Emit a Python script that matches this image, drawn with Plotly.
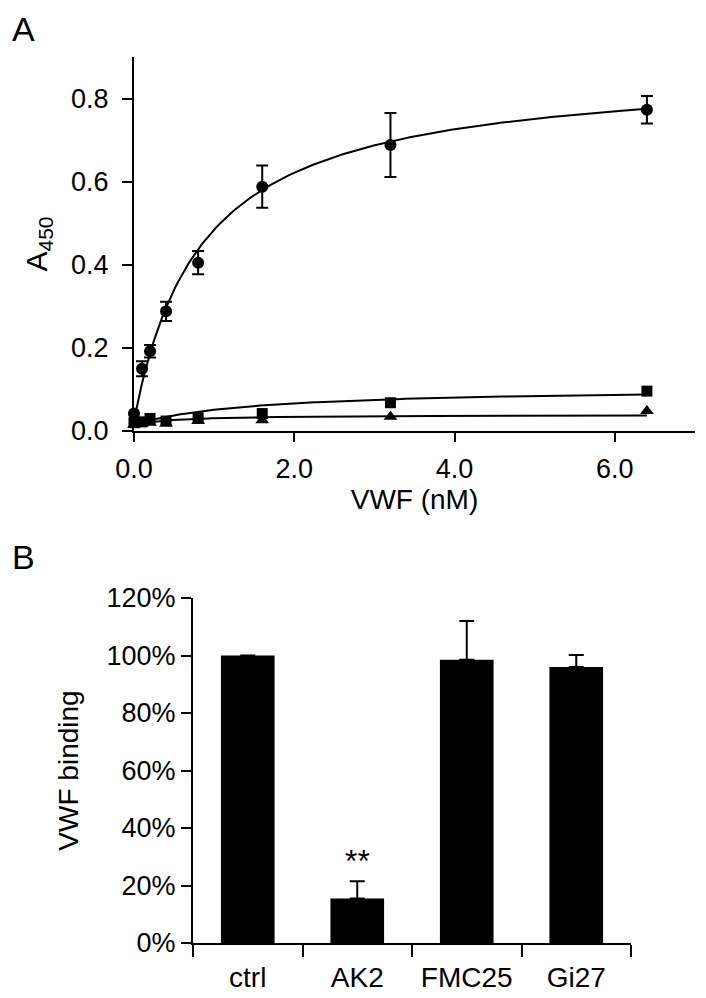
import numpy as np
import plotly.graph_objects as go

# ---------------- Panel A data ----------------
vwf_nM = [0.0, 0.1, 0.2, 0.4, 0.8, 1.6, 3.2, 6.4]
circle_vals = [0.042, 0.150, 0.192, 0.288, 0.405, 0.588, 0.688, 0.773]
circle_err = [0.0, 0.018, 0.015, 0.023, 0.028, 0.051, 0.077, 0.033]
square_vals = [0.020, 0.022, 0.030, 0.024, 0.032, 0.042, 0.068, 0.096]
triangle_vals = [0.015, 0.018, 0.020, 0.018, 0.024, 0.026, 0.034, 0.048]

# one-site binding fit parameters (Bmax, Kd, baseline)
fit_circle = (0.85, 0.85, 0.025)
fit_square = (0.09, 1.5, 0.015)
fit_triangle = (0.025, 0.5, 0.014)

# ---------------- Panel B data ----------------
antibodies = ["ctrl", "AK2", "FMC25", "Gi27"]
binding_pct = [100.0, 15.5, 98.5, 96.0]
binding_err = [None, 6.0, 13.5, 4.2]
pct_ticks = [0, 20, 40, 60, 80, 100, 120]
pct_labels = ["0%", "20%", "40%", "60%", "80%", "100%", "120%"]

FONT = "Liberation Sans, Arial, Helvetica, sans-serif"

# the page body adds an 8px margin; size the figure so it fits the window
OFF = 8
W, H = 706 - OFF, 998 - OFF


def fx(p):
    return (p - OFF) / W


def fy(p):
    return 1 - (p - OFF) / H


fig = go.Figure()


def fit_curve(params):
    bmax, kd, c = params
    xs = np.linspace(0, max(vwf_nM), 200)
    return xs, bmax * xs / (kd + xs) + c


for params in (fit_circle, fit_square, fit_triangle):
    xs, ys = fit_curve(params)
    fig.add_trace(go.Scatter(x=xs, y=ys, mode="lines", line=dict(color="black", width=2),
                             xaxis="x", yaxis="y", showlegend=False, hoverinfo="skip",
                             cliponaxis=False))

fig.add_trace(go.Scatter(x=vwf_nM, y=triangle_vals, mode="markers",
                         marker=dict(symbol="triangle-up", size=12, color="black"),
                         xaxis="x", yaxis="y", showlegend=False, cliponaxis=False))
fig.add_trace(go.Scatter(x=vwf_nM, y=square_vals, mode="markers",
                         marker=dict(symbol="square", size=11, color="black"),
                         xaxis="x", yaxis="y", showlegend=False, cliponaxis=False))
fig.add_trace(go.Scatter(x=vwf_nM, y=circle_vals, mode="markers",
                         marker=dict(symbol="circle", size=12, color="black"),
                         error_y=dict(type="data", array=circle_err, visible=True,
                                      color="black", thickness=2, width=6),
                         xaxis="x", yaxis="y", showlegend=False, cliponaxis=False))

fig.add_trace(go.Bar(x=antibodies, y=binding_pct, marker=dict(color="black", line=dict(width=0)),
                     width=0.49,
                     error_y=dict(type="data", symmetric=False, array=binding_err,
                                  arrayminus=[0] * len(binding_err), visible=True,
                                  color="black", thickness=2, width=7.5),
                     xaxis="x2", yaxis="y2", showlegend=False))

axis_common = dict(showline=True, linecolor="black", linewidth=2, ticks="outside",
                   tickcolor="black", tickwidth=2, showgrid=False, zeroline=False,
                   automargin=False)

fig.update_layout(
    width=W, height=H,
    margin=dict(l=0, r=0, t=0, b=0, autoexpand=False),
    paper_bgcolor="white", plot_bgcolor="white",
    font=dict(family=FONT, color="black"),
    xaxis=dict(domain=[fx(134), fx(695)], range=[0, 7.0], tickvals=[0, 2, 4, 6],
               tickformat=".1f", ticklen=9, anchor="y", ticklabelstandoff=4,
               tickfont=dict(family=FONT, size=27, color="black"),
               title=dict(text="VWF (nM)", font=dict(family=FONT, size=28), standoff=0),
               **axis_common),
    yaxis=dict(domain=[fy(431), fy(57)], range=[0, 0.9],
               tickvals=[0, 0.2, 0.4, 0.6, 0.8], tickformat=".1f", ticklen=10, anchor="x",
               ticklabelstandoff=8,
               tickfont=dict(family=FONT, size=27, color="black"),
               title=dict(text="A<sub>450</sub>", font=dict(family=FONT, size=30), standoff=15),
               **axis_common),
    xaxis2=dict(domain=[fx(193), fx(631)], type="category", tickson="boundaries",
                ticklen=12, anchor="y2", range=[-0.5, 3.5], ticklabelstandoff=8,
                tickfont=dict(family=FONT, size=28, color="black"),
                **axis_common),
    yaxis2=dict(domain=[fy(943), fy(598)], range=[0, 120],
                tickmode="array", tickvals=pct_ticks, ticktext=pct_labels, ticklen=10,
                anchor="x2",
                tickfont=dict(family=FONT, size=27, color="black"),
                title=dict(text="VWF binding", font=dict(family=FONT, size=28), standoff=20),
                **axis_common),
    annotations=[
        dict(text="A", x=0.0, y=1.0, xref="paper", yref="paper", xanchor="left",
             yanchor="top", xshift=2, yshift=0, showarrow=False,
             font=dict(family=FONT, size=34, color="black")),
        dict(text="B", x=0.0, y=fy(540), xref="paper", yref="paper", xanchor="left",
             yanchor="top", xshift=2, yshift=4, showarrow=False,
             font=dict(family=FONT, size=34, color="black")),
        dict(text="**", x=antibodies[1], y=binding_pct[1] + binding_err[1], xref="x2", yref="y2",
             yanchor="bottom", yshift=0, showarrow=False,
             font=dict(family=FONT, size=32, color="black")),
    ],
)

fig.write_html("out.html")
